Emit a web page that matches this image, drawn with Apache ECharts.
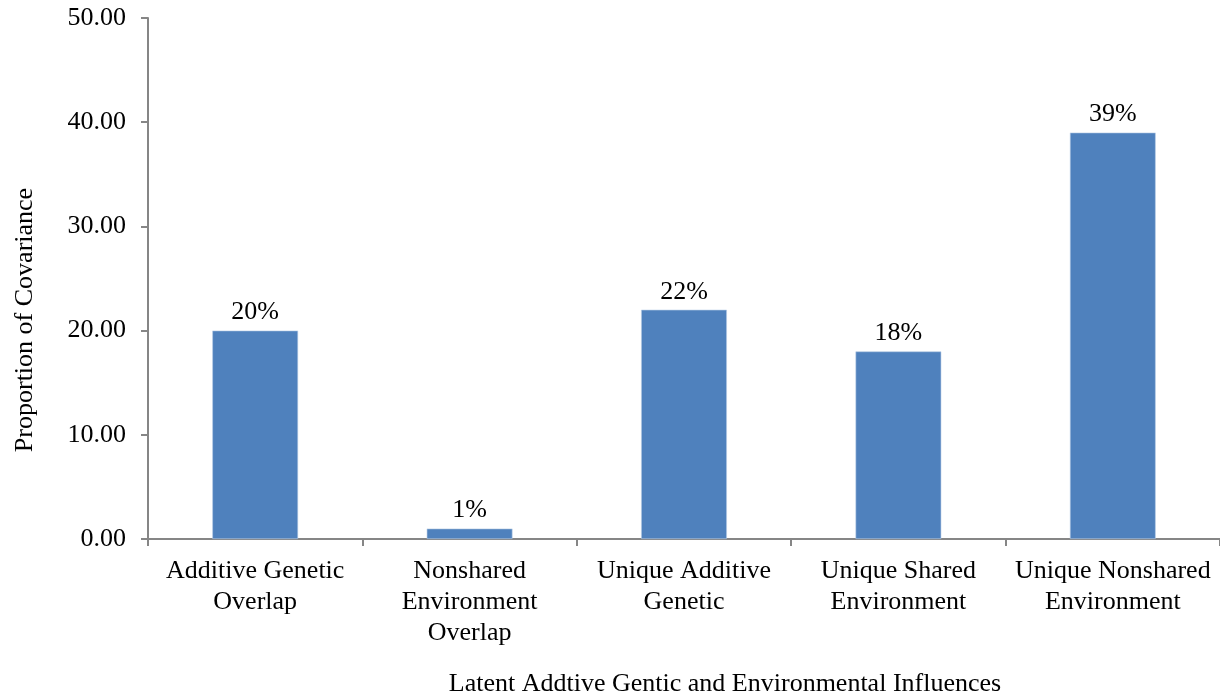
<!DOCTYPE html>
<html>
<head>
<meta charset="utf-8">
<script src="https://cdn.jsdelivr.net/npm/echarts@6/dist/echarts.min.js"></script>
<style>
  html, body { margin: 0; padding: 0; background: #fff; }
  #chart { width: 1220px; height: 695px; }
</style>
</head>
<body>
<div id="chart"></div>
<script>
// Latent influences on covariance
const categories = [
  'Additive Genetic\nOverlap',
  'Nonshared\nEnvironment\nOverlap',
  'Unique Additive\nGenetic',
  'Unique Shared\nEnvironment',
  'Unique Nonshared\nEnvironment'
];
const covariance = [20, 1, 22, 18, 39];
const yTicks = { min: 0, max: 50, interval: 10 };

const serif = '"Liberation Serif", "Times New Roman", serif';
const axisGray = '#868686';
const fs = 26;

const chart = echarts.init(document.getElementById('chart'));
chart.setOption({
  animation: false,
  grid: { left: 148, right: 0, top: 18, bottom: 156, containLabel: false, outerBoundsMode: 'none' },
  xAxis: {
    type: 'category',
    data: categories,
    axisLine: { lineStyle: { color: axisGray, width: 2 } },
    axisTick: { show: true, length: 7, lineStyle: { color: axisGray, width: 2 } },
    axisLabel: { interval: 0, color: '#000', fontFamily: serif, fontSize: fs, lineHeight: 31, margin: 17 },
    name: 'Latent Addtive Gentic and Environmental Influences',
    nameLocation: 'middle',
    nameGap: 132,
    nameTextStyle: { color: '#000', fontFamily: serif, fontSize: fs, padding: [0, 0, 0, 82] }
  },
  yAxis: {
    type: 'value',
    min: yTicks.min,
    max: yTicks.max,
    interval: yTicks.interval,
    splitLine: { show: false },
    axisLine: { show: true, lineStyle: { color: axisGray, width: 2 } },
    axisTick: { show: true, length: 7, lineStyle: { color: axisGray, width: 2 } },
    axisLabel: {
      color: '#000', fontFamily: serif, fontSize: fs, margin: 22,
      formatter: v => v.toFixed(2)
    }
  },
  graphic: [{
    type: 'text',
    x: 25,
    y: 320,
    rotation: Math.PI / 2,
    style: {
      text: 'Proportion of Covariance',
      fill: '#000',
      font: fs + 'px ' + serif,
      textAlign: 'center',
      textVerticalAlign: 'middle'
    }
  }],
  series: [{
    type: 'bar',
    data: covariance,
    barWidth: '40%',
    itemStyle: { color: '#4f81bd', borderColor: '#b9cde5', borderWidth: 0.6 },
    label: {
      show: true,
      position: 'top',
      distance: 5,
      color: '#000',
      fontFamily: serif,
      fontSize: fs,
      formatter: p => p.value + '%'
    }
  }]
});
</script>
</body>
</html>
